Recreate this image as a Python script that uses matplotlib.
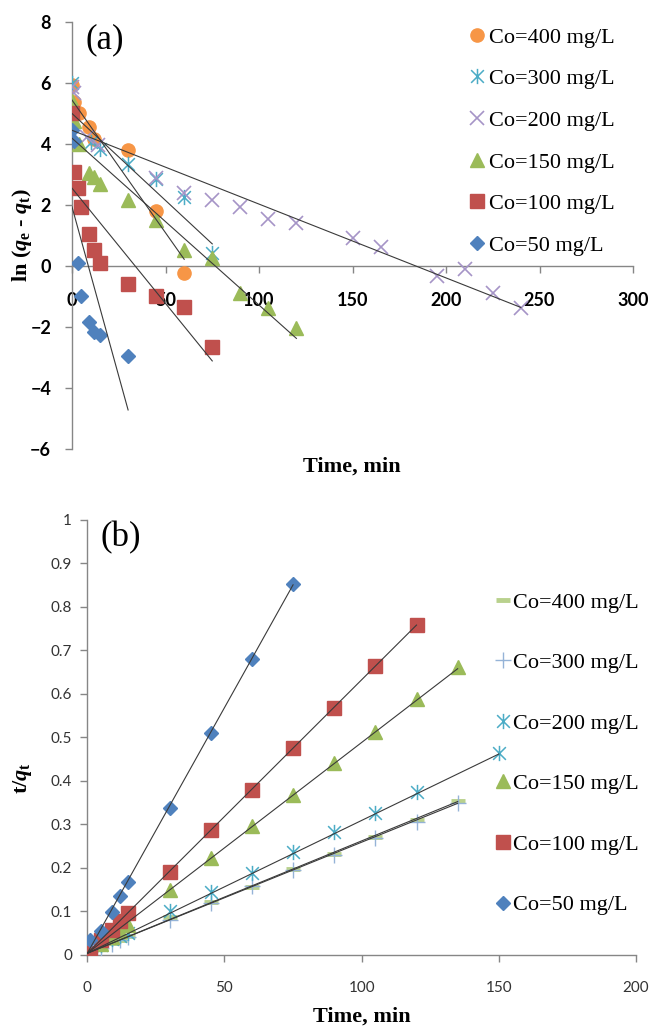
import numpy as np
import matplotlib.pyplot as plt
from matplotlib.path import Path
from matplotlib.ticker import MultipleLocator, FormatStrFormatter

plt.rcParams['mathtext.fontset'] = 'custom'
plt.rcParams['mathtext.rm'] = 'Liberation Serif:bold'
plt.rcParams['mathtext.it'] = 'Liberation Serif:bold:italic'
plt.rcParams['mathtext.bf'] = 'Liberation Serif:bold'

labels = ['Co=400 mg/L', 'Co=300 mg/L', 'Co=200 mg/L',
          'Co=150 mg/L', 'Co=100 mg/L', 'Co=50 mg/L']

# ---- (a) pseudo-first-order: ln(qe - qt) vs time ----
t_a_400 = [0, 1, 4, 9, 12, 30, 45, 60]
y_a_400 = [5.93, 5.39, 5.03, 4.57, 4.18, 3.79, 1.81, -0.24]
t_a_300 = [0, 10, 15, 30, 45, 60, 75]
y_a_300 = [6.0, 4.05, 3.82, 3.34, 2.85, 2.25, 0.42]
t_a_200 = [0, 1, 8, 14, 45, 60, 75, 90, 105, 120, 150, 165, 195, 210, 225, 240]
y_a_200 = [5.88, 5.66, 4.24, 3.97, 2.87, 2.38, 2.16, 1.92, 1.53, 1.40,
           0.91, 0.63, -0.33, -0.11, -0.87, -1.39]
t_a_150 = [0, 1, 4, 9, 12, 15, 30, 45, 60, 75, 90, 105, 120]
y_a_150 = [5.4, 4.75, 3.99, 3.05, 2.93, 2.68, 2.18, 1.52, 0.52, 0.26,
           -0.88, -1.39, -2.04]
t_a_100 = [0, 1, 3, 5, 9, 12, 15, 30, 45, 60, 75]
y_a_100 = [5.02, 3.09, 2.55, 1.94, 1.04, 0.52, 0.09, -0.59, -0.98, -1.35, -2.67]
t_a_50 = [0, 1, 3, 5, 9, 12, 15, 30]
y_a_50 = [4.46, 4.1, 0.09, -0.97, -1.85, -2.15, -2.26, -2.95]

# linear trend lines (slope, intercept, last time)
fit_a_slope = [-0.087, -0.057, -0.0242, -0.0547, -0.0755, -0.222]
fit_a_icpt = [5.44, 5.0, 4.45, 4.19, 2.55, 1.94]
fit_a_tend = [60, 75, 240, 120, 75, 30]

# ---- (b) pseudo-second-order: t/qt vs time ----
t_b_400 = [1, 5, 9, 12, 15, 30, 45, 60, 75, 90, 105, 120, 135]
y_b_400 = [0.005, 0.016, 0.027, 0.035, 0.043, 0.088, 0.121, 0.155, 0.197,
           0.233, 0.27, 0.31, 0.354]
t_b_300 = [1, 5, 9, 12, 15, 30, 45, 60, 75, 90, 105, 120, 135]
y_b_300 = [0.006, 0.015, 0.026, 0.034, 0.042, 0.08, 0.119, 0.158, 0.196,
           0.23, 0.268, 0.306, 0.348]
t_b_200 = [1, 5, 9, 12, 15, 30, 45, 60, 75, 90, 105, 120, 150]
y_b_200 = [0.006, 0.022, 0.036, 0.044, 0.05, 0.102, 0.145, 0.188, 0.236,
           0.283, 0.327, 0.374, 0.463]
t_b_150 = [1, 5, 9, 12, 15, 30, 45, 60, 75, 90, 105, 120, 135]
y_b_150 = [0.006, 0.025, 0.042, 0.055, 0.07, 0.15, 0.223, 0.297, 0.368,
           0.44, 0.513, 0.587, 0.661]
t_b_100 = [1, 5, 9, 12, 15, 30, 45, 60, 75, 90, 105, 120]
y_b_100 = [0.005, 0.035, 0.057, 0.077, 0.097, 0.19, 0.286, 0.378, 0.475,
           0.568, 0.664, 0.758]
t_b_50 = [1, 5, 9, 12, 15, 30, 45, 60, 75]
y_b_50 = [0.034, 0.056, 0.099, 0.136, 0.167, 0.338, 0.509, 0.68, 0.851]

fit_b_slope = [0.00258, 0.00255, 0.00305, 0.00484, 0.00628, 0.01128]
fit_b_icpt = [0.004, 0.004, 0.004, 0.004, 0.004, 0.004]
fit_b_tend = [135, 135, 150, 135, 120, 75]

# x with a vertical bar through it
asterisk = Path([(-1, -1), (1, 1), (-1, 1), (1, -1), (0, -1.2), (0, 1.2)],
                [Path.MOVETO, Path.LINETO, Path.MOVETO, Path.LINETO,
                 Path.MOVETO, Path.LINETO])
style_a = [dict(marker='o', color='#F79646', ms=9.5),
           dict(marker=asterisk, color='#4BACC6', ms=11, mew=1.1),
           dict(marker='x', color='#A594C7', ms=9.5, mew=1.2),
           dict(marker='^', color='#9BBB59', ms=10),
           dict(marker='s', color='#C0504D', ms=9.5),
           dict(marker='D', color='#4F81BD', ms=7)]
style_b = [dict(marker='_', color='#B9D18D', ms=10, mew=3.5),
           dict(marker='+', color='#95B3D7', ms=11, mew=1),
           dict(marker=asterisk, color='#4BACC6', ms=11, mew=1.1),
           dict(marker='^', color='#9BBB59', ms=10),
           dict(marker='s', color='#C0504D', ms=9.5),
           dict(marker='D', color='#4F81BD', ms=7.5)]

W, H = 651, 1028
fig = plt.figure(figsize=(W / 100, H / 100), dpi=100)

def px_rect(l, t, r, b):
    return [l / W, 1 - b / H, (r - l) / W, (b - t) / H]

axis_grey = '#868686'

def style_axes(ax):
    for s in ['top', 'right']:
        ax.spines[s].set_visible(False)
    for s in ['left', 'bottom']:
        ax.spines[s].set_color(axis_grey)
        ax.spines[s].set_linewidth(1.0)
    ax.tick_params(direction='out', length=5, width=1, color=axis_grey)

# ---------- panel (a) ----------
ax1 = fig.add_axes(px_rect(72, 22, 633, 449))
series_a = [(t_a_400, y_a_400), (t_a_300, y_a_300), (t_a_200, y_a_200),
            (t_a_150, y_a_150), (t_a_100, y_a_100), (t_a_50, y_a_50)]
for (t, y), st, lab in zip(series_a, style_a, labels):
    ax1.plot(t, y, linestyle='none', label=lab, zorder=3, **st)
for k, b, te in zip(fit_a_slope, fit_a_icpt, fit_a_tend):
    tt = np.array([0, te])
    ax1.plot(tt, np.polyval([k, b], tt), color='#3a3a3a', lw=0.8, zorder=4)

ax1.set_xlim(0, 300)
ax1.set_ylim(-6, 8)
ax1.xaxis.set_major_locator(MultipleLocator(50))
ax1.yaxis.set_major_locator(MultipleLocator(2))
style_axes(ax1)
ax1.spines['bottom'].set_position(('data', 0))
ax1.tick_params(axis='x', pad=14)
ax1.tick_params(axis='y', pad=10)
for lab in ax1.get_xticklabels() + ax1.get_yticklabels():
    lab.set_family('Lato')
    lab.set_weight('bold')
    lab.set_fontsize(13)

ax1.legend(loc='upper left', bbox_to_anchor=(469 / W, 1 - 27 / H),
           bbox_transform=fig.transFigure, frameon=False, numpoints=1,
           prop={'family': 'Liberation Serif', 'size': 16},
           handlelength=0.7, handletextpad=0.2, labelspacing=0.95,
           borderpad=0, borderaxespad=0)

fig.text(105 / W, 1 - 40 / H, '(a)', family='Liberation Serif', size=25,
         ha='center', va='center')
fig.text(352 / W, 1 - 467 / H, 'Time, min', family='Liberation Serif',
         weight='bold', size=16, ha='center', va='center')
fig.text(22 / W, 1 - 235 / H, r'ln ($q_{\rm e}$ - $q_{\rm t}$)',
         family='Liberation Serif', weight='bold', size=16, rotation=90,
         ha='center', va='center')

# ---------- panel (b) ----------
ax2 = fig.add_axes(px_rect(87.3, 519.5, 636, 955))
series_b = [(t_b_400, y_b_400), (t_b_300, y_b_300), (t_b_200, y_b_200),
            (t_b_150, y_b_150), (t_b_100, y_b_100), (t_b_50, y_b_50)]
for (t, y), st, lab in zip(series_b, style_b, labels):
    ax2.plot(t, y, linestyle='none', label=lab, zorder=3, **st)
for k, b, te in zip(fit_b_slope, fit_b_icpt, fit_b_tend):
    tt = np.array([0, te])
    ax2.plot(tt, np.polyval([k, b], tt), color='#3a3a3a', lw=0.8, zorder=4)

ax2.set_xlim(0, 200)
ax2.set_ylim(0, 1)
ax2.xaxis.set_major_locator(MultipleLocator(50))
ax2.yaxis.set_major_locator(MultipleLocator(0.1))
ax2.yaxis.set_major_formatter(FormatStrFormatter('%g'))
style_axes(ax2)
ax2.tick_params(axis='x', pad=14)
ax2.tick_params(axis='y', pad=6)
for lab in ax2.get_xticklabels() + ax2.get_yticklabels():
    lab.set_family('Lato')
    lab.set_fontsize(11)
    lab.set_color('#333333')

ax2.legend(loc='upper left', bbox_to_anchor=(495 / W, 1 - 592 / H),
           bbox_transform=fig.transFigure, frameon=False, numpoints=1,
           prop={'family': 'Liberation Serif', 'size': 16},
           handlelength=0.7, handletextpad=0.1, labelspacing=1.8,
           borderpad=0, borderaxespad=0)

fig.text(121 / W, 1 - 538 / H, '(b)', family='Liberation Serif', size=25,
         ha='center', va='center')
fig.text(362 / W, 1 - 1017 / H, 'Time, min', family='Liberation Serif',
         weight='bold', size=16, ha='center', va='center')
fig.text(22 / W, 1 - 778 / H, r't/$q_{\rm t}$', family='Liberation Serif',
         weight='bold', size=16, rotation=90, ha='center', va='center')

fig.savefig('out.png', dpi=100)
